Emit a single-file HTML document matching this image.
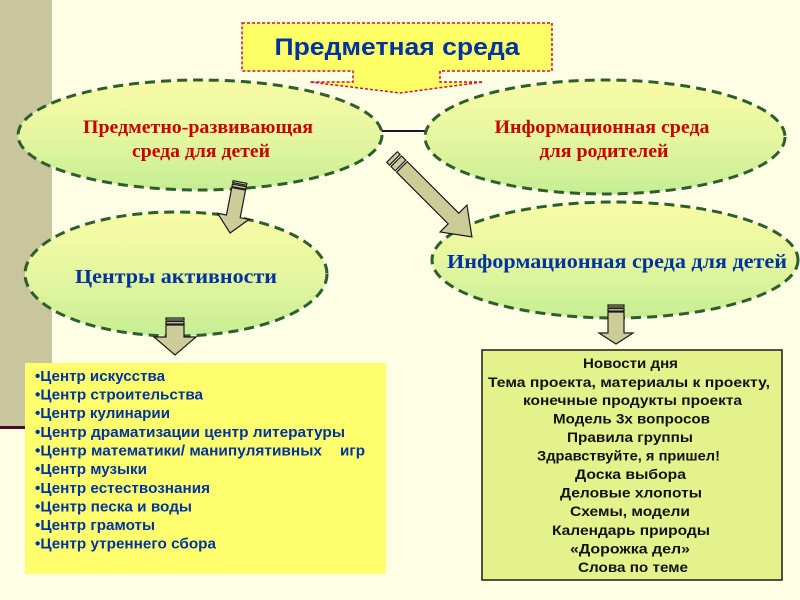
<!DOCTYPE html>
<html><head><meta charset="utf-8"><style>
html,body{margin:0;padding:0;background:#FFFFE6;}
svg{display:block;}
</style></head><body>
<svg width="800" height="600" viewBox="0 0 800 600" xmlns="http://www.w3.org/2000/svg">
<defs>
<linearGradient id="eg" x1="0" y1="0" x2="0" y2="1">
<stop offset="0" stop-color="#F8FCA6"/>
<stop offset="0.5" stop-color="#E6F6A0"/>
<stop offset="1" stop-color="#C6EE94"/>
</linearGradient>
</defs>
<rect x="0" y="0" width="800" height="600" fill="#FFFFE6"/>
<rect x="0" y="0" width="52" height="427" fill="#C9C69E"/>
<rect x="0" y="426" width="30" height="3" fill="#4A0A2A"/>

<!-- callout -->
<path d="M242,23 H552 V71 H440 V82 H483 L400,93 L310,82 H353 V71 H242 Z" fill="#FFFF66" stroke="#CC1040" stroke-width="1.5" stroke-dasharray="3 2"/>
<text x="397" y="55" text-anchor="middle" font-family="Liberation Sans, sans-serif" font-weight="bold" font-size="24" fill="#0033A0" textLength="245" lengthAdjust="spacingAndGlyphs">Предметная среда</text>

<!-- connector -->
<line x1="381" y1="131" x2="427" y2="131" stroke="#221133" stroke-width="2"/>

<!-- ellipses -->
<g fill="url(#eg)" stroke="#2E5E2E" stroke-width="3" stroke-dasharray="10 6">
<ellipse cx="200" cy="135" rx="182" ry="55"/>
<ellipse cx="605" cy="137" rx="180" ry="57"/>
<ellipse cx="176" cy="274" rx="151" ry="62"/>
<ellipse cx="615" cy="260" rx="183" ry="58"/>
</g>

<g font-family="Liberation Serif, serif" font-weight="bold" text-anchor="middle">
<text x="198" y="133" font-size="19" fill="#CC0000" textLength="230" lengthAdjust="spacingAndGlyphs">Предметно-развивающая</text>
<text x="201" y="157" font-size="19" fill="#CC0000" textLength="138" lengthAdjust="spacingAndGlyphs">среда для детей</text>
<text x="602" y="133" font-size="19" fill="#CC0000" textLength="215" lengthAdjust="spacingAndGlyphs">Информационная среда</text>
<text x="604" y="157" font-size="19" fill="#CC0000" textLength="129" lengthAdjust="spacingAndGlyphs">для родителей</text>
<text x="176" y="283" font-size="20" fill="#0033A0" textLength="202" lengthAdjust="spacingAndGlyphs">Центры активности</text>
<text x="617" y="268" font-size="20" fill="#0033A0" textLength="340" lengthAdjust="spacingAndGlyphs">Информационная среда для детей</text>
</g>

<!-- arrows -->
<g fill="#CCCC99" stroke="#1a1a1a" stroke-width="1.2" stroke-linejoin="miter">
<g transform="translate(240,182) rotate(11)">
<rect x="-7" y="0" width="14" height="2"/><rect x="-7" y="3.5" width="14" height="2.5"/>
<path d="M-7,7 L7,7 L7,35 L16,35 L0,52 L-16,35 L-7,35 Z"/>
</g>
<g transform="translate(175,318)">
<rect x="-9" y="0" width="18" height="2"/><rect x="-9" y="3.5" width="18" height="2.5"/>
<path d="M-9,7 L9,7 L9,19 L21,19 L0,37 L-21,19 L-9,19 Z"/>
</g>
<g transform="translate(392,157) rotate(-45)">
<rect x="-7.5" y="0" width="15" height="4"/><rect x="-7.5" y="6" width="15" height="6"/>
<path d="M-7.5,14 L7.5,14 L7.5,87 L19,87 L0,113 L-19,87 L-7.5,87 Z"/>
</g>
<g transform="translate(616,305)">
<rect x="-8" y="0" width="16" height="2"/><rect x="-8" y="3.5" width="16" height="2.5"/>
<path d="M-8,7 L8,7 L8,28 L17,28 L0,39 L-17,28 L-8,28 Z"/>
</g>
</g>

<!-- left box -->
<rect x="25" y="363" width="361" height="211" fill="#FFFF6E"/>
<g font-family="Liberation Sans, sans-serif" font-weight="bold" font-size="15" fill="#0033A0">
<text x="35" y="381" textLength="130" lengthAdjust="spacingAndGlyphs">•Центр искусства</text>
<text x="35" y="399.5" textLength="168" lengthAdjust="spacingAndGlyphs">•Центр строительства</text>
<text x="35" y="418" textLength="135" lengthAdjust="spacingAndGlyphs">•Центр кулинарии</text>
<text x="35" y="437" textLength="310" lengthAdjust="spacingAndGlyphs">•Центр драматизации центр литературы</text>
<text x="35" y="455.5" textLength="287" lengthAdjust="spacingAndGlyphs">•Центр математики/ манипулятивных</text>
<text x="340" y="455.5" textLength="25" lengthAdjust="spacingAndGlyphs">игр</text>
<text x="35" y="474" textLength="112" lengthAdjust="spacingAndGlyphs">•Центр музыки</text>
<text x="35" y="493" textLength="175" lengthAdjust="spacingAndGlyphs">•Центр естествознания</text>
<text x="35" y="511.5" textLength="157" lengthAdjust="spacingAndGlyphs">•Центр песка и воды</text>
<text x="35" y="530" textLength="120" lengthAdjust="spacingAndGlyphs">•Центр грамоты</text>
<text x="35" y="548.5" textLength="181" lengthAdjust="spacingAndGlyphs">•Центр утреннего сбора</text>
</g>

<!-- right box -->
<rect x="482" y="350" width="300" height="230" fill="#E4F28C" stroke="#1a1a1a" stroke-width="1.5"/>
<g font-family="Liberation Sans, sans-serif" font-weight="bold" font-size="14" fill="#111">
<text x="583" y="368" textLength="95" lengthAdjust="spacingAndGlyphs">Новости дня</text>
<text x="488" y="387" textLength="282" lengthAdjust="spacingAndGlyphs">Тема проекта, материалы к проекту,</text>
<text x="523" y="405" textLength="219" lengthAdjust="spacingAndGlyphs">конечные продукты проекта</text>
<text x="553" y="423.5" textLength="157" lengthAdjust="spacingAndGlyphs">Модель 3х вопросов</text>
<text x="567" y="442" textLength="126" lengthAdjust="spacingAndGlyphs">Правила группы</text>
<text x="537" y="460.5" textLength="183" lengthAdjust="spacingAndGlyphs">Здравствуйте, я пришел!</text>
<text x="575" y="479" textLength="111" lengthAdjust="spacingAndGlyphs">Доска выбора</text>
<text x="560" y="497.5" textLength="142" lengthAdjust="spacingAndGlyphs">Деловые хлопоты</text>
<text x="570" y="516" textLength="120" lengthAdjust="spacingAndGlyphs">Схемы, модели</text>
<text x="552" y="535" textLength="158" lengthAdjust="spacingAndGlyphs">Календарь природы</text>
<text x="570" y="553.5" textLength="120" lengthAdjust="spacingAndGlyphs">«Дорожка дел»</text>
<text x="578" y="572" textLength="110" lengthAdjust="spacingAndGlyphs">Слова по теме</text>
</g>
</svg>
</body></html>
